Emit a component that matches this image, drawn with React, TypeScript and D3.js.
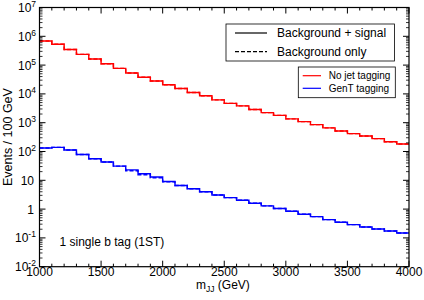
import React from 'react';
import * as d3 from 'd3';

// bin lower edges (GeV), 100 GeV bins
const binEdges = d3.range(1000, 4001, 100);

// Events / 100 GeV, background + signal
const noTagSig = [
  6.85e5, 5.3e5, 3.5e5, 2.36e5, 1.62e5, 1.12e5, 7.7e4, 5.3e4, 3.8e4, 2.8e4,
  2.07e4, 1.54e4, 1.12e4, 8.6e3, 6.2e3, 4.7e3, 3.85e3, 2.86e3, 2.24e3, 1.8e3,
  1.36e3, 1.09e3, 860, 660, 518, 417, 347, 279, 219, 182,
];
const genTSig = [
  132, 139, 113, 79, 56, 43, 31, 23, 16.8, 13,
  9.1, 6.6, 5.06, 4.0, 3.1, 2.5, 2.04, 1.6, 1.29, 1.05,
  0.845, 0.66, 0.55, 0.43, 0.35, 0.29, 0.24, 0.204, 0.174, 0.148,
];
// background only (dashed)
const noTagBkg = [
  6.85e5, 5.3e5, 3.5e5, 2.36e5, 1.62e5, 1.12e5, 7.7e4, 5.3e4, 3.8e4, 2.8e4,
  2.07e4, 1.54e4, 1.12e4, 8.6e3, 6.2e3, 4.7e3, 3.85e3, 2.86e3, 2.24e3, 1.8e3,
  1.36e3, 1.09e3, 860, 660, 518, 417, 347, 279, 219, 182,
];
const genTBkg = [
  132, 139, 113, 79, 56, 43, 31, 21.5, 15.5, 12.3,
  8.8, 6.6, 5.06, 4.0, 3.1, 2.5, 2.04, 1.6, 1.29, 1.05,
  0.845, 0.66, 0.55, 0.43, 0.35, 0.29, 0.24, 0.204, 0.174, 0.148,
];

const xTicks = [1000, 1500, 2000, 2500, 3000, 3500, 4000];
const yExponents = [7, 6, 5, 4, 3, 2, 1, 0, -1, -2];

const FONT = '"Liberation Sans", Arial, Helvetica, sans-serif';

const App = () => {
  const left = 39.5;
  const right = 409;
  const top = 7.5;
  const bottom = 266.7;

  const x = d3.scaleLinear().domain([1000, 4000]).range([left, right]);
  const y = d3.scaleLog().domain([1e-2, 1e7]).range([bottom, top]);

  const stepPath = (vals: number[]) => {
    const pts: [number, number][] = vals.map((v, i) => [binEdges[i], v]);
    pts.push([binEdges[vals.length], vals[vals.length - 1]]);
    return d3
      .line<[number, number]>()
      .x((d) => x(d[0]))
      .y((d) => y(d[1]))
      .curve(d3.curveStepAfter)(pts) as string;
  };

  const minorX = d3.range(1000, 4001, 100).filter((v) => v % 500 !== 0);
  const minorY: number[] = [];
  yExponents.slice(0, -1).forEach((e) => {
    for (let m = 2; m <= 9; m++) minorY.push(m * Math.pow(10, e - 1));
  });

  const yLabel = (e: number) => {
    if (e === 1) return <tspan>10</tspan>;
    if (e === 0) return <tspan>1</tspan>;
    return (
      <>
        <tspan>10</tspan>
        <tspan fontSize={8.5} dy={-5}>
          {e}
        </tspan>
      </>
    );
  };

  return (
    <svg
      width={424}
      height={300}
      style={{ position: 'absolute', left: 0, top: 0, background: '#fff' }}
      fontFamily={FONT}
    >
      {/* data */}
      <path d={stepPath(noTagSig)} fill="none" stroke="#ff0000" strokeWidth={1.4} />
      <path d={stepPath(noTagBkg)} fill="none" stroke="#ff0000" strokeWidth={1.4} strokeDasharray="4,2" />
      <path d={stepPath(genTSig)} fill="none" stroke="#0000ff" strokeWidth={1.4} />
      <path d={stepPath(genTBkg)} fill="none" stroke="#0000ff" strokeWidth={1.4} strokeDasharray="4,2" />

      {/* frame */}
      <rect x={left} y={top} width={right - left} height={bottom - top} fill="none" stroke="#000" strokeWidth={1.2} />

      {/* x ticks */}
      {xTicks.map((t) => (
        <g key={'xt' + t}>
          <line x1={x(t)} x2={x(t)} y1={bottom} y2={bottom - 6} stroke="#000" />
          <line x1={x(t)} x2={x(t)} y1={top} y2={top + 6} stroke="#000" />
          <text x={x(t)} y={276} fontSize={12} textAnchor="middle">
            {t}
          </text>
        </g>
      ))}
      {minorX.map((t) => (
        <g key={'xm' + t}>
          <line x1={x(t)} x2={x(t)} y1={bottom} y2={bottom - 3} stroke="#000" />
          <line x1={x(t)} x2={x(t)} y1={top} y2={top + 3} stroke="#000" />
        </g>
      ))}

      {/* y ticks */}
      {yExponents.map((e) => {
        const yy = y(Math.pow(10, e));
        return (
          <g key={'yt' + e}>
            <line x1={left} x2={left + 6} y1={yy} y2={yy} stroke="#000" />
            <line x1={right} x2={right - 6} y1={yy} y2={yy} stroke="#000" />
            <text
              x={e === 1 || e === 0 ? 34 : e < 0 ? 22 : 29}
              y={yy + 4.5}
              fontSize={12}
              textAnchor={e === 1 || e === 0 ? 'end' : 'start'}
              transform={e === 1 || e === 0 ? undefined : `translate(${e < 0 ? -7 : -11},0)`}
            >
              {yLabel(e)}
            </text>
          </g>
        );
      })}
      {minorY.map((v, i) => (
        <g key={'ym' + i}>
          <line x1={left} x2={left + 3} y1={y(v)} y2={y(v)} stroke="#000" strokeWidth={0.8} />
          <line x1={right} x2={right - 3} y1={y(v)} y2={y(v)} stroke="#000" strokeWidth={0.8} />
        </g>
      ))}

      {/* axis titles */}
      <text x={196} y={289} fontSize={12}>
        m<tspan fontSize={8.5} dy={3}>JJ</tspan>
        <tspan dy={-3}> (GeV)</tspan>
      </text>
      <text transform={`translate(12,${(top + bottom) / 2}) rotate(-90)`} fontSize={12.5} textAnchor="middle">
        Events / 100 GeV
      </text>

      {/* annotation */}
      <text x={59.5} y={246} fontSize={12}>
        1 single b tag (1ST)
      </text>

      {/* legend: line styles */}
      <rect x={226} y={24} width={168.5} height={37} fill="#fff" stroke="#000" strokeWidth={0.8} />
      <line x1={235} x2={267} y1={33} y2={33} stroke="#000" strokeWidth={1.2} />
      <text x={277} y={37.3} fontSize={12}>
        Background + signal
      </text>
      <line x1={235} x2={267} y1={51.7} y2={51.7} stroke="#000" strokeWidth={1.2} strokeDasharray="4,2" />
      <text x={277} y={56} fontSize={12}>
        Background only
      </text>

      {/* legend: tagging */}
      <rect x={298.3} y={67} width={97} height={30.7} fill="#fff" stroke="#000" strokeWidth={0.8} />
      <line x1={302.7} x2={321} y1={75.7} y2={75.7} stroke="#ff0000" strokeWidth={1.2} />
      <text x={328.7} y={79.3} fontSize={10}>
        No jet tagging
      </text>
      <line x1={302.7} x2={321} y1={88.3} y2={88.3} stroke="#0000ff" strokeWidth={1.2} />
      <text x={328.7} y={92} fontSize={10}>
        GenT tagging
      </text>
    </svg>
  );
};

export default App;
